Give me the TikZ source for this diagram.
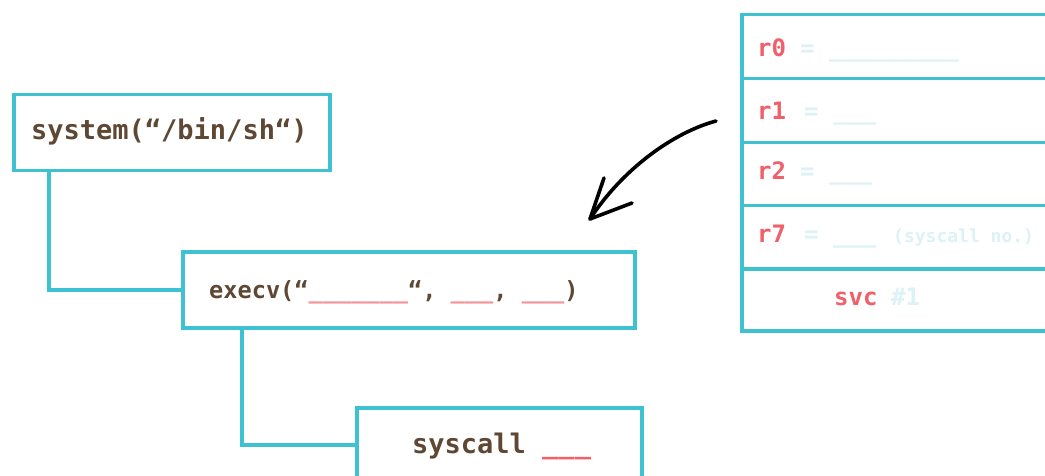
\documentclass[tikz,border=0pt]{standalone}
\usepackage{fontspec}
\setmonofont{DejaVu Sans Mono}
\definecolor{frame}{HTML}{3EC1D0}
\definecolor{code}{HTML}{5E4733}
\definecolor{reg}{HTML}{F0606A}
\definecolor{blank}{HTML}{F4959A}
\definecolor{faint}{HTML}{DDF2F6}
\tikzset{
  box/.style={draw=frame, line width=3.5pt, fill=white, anchor=north west, inner sep=0pt},
  row/.style={box, minimum width=310pt},
  conn/.style={draw=frame, line width=3.5pt},
  codetext/.style={anchor=base west, inner sep=0pt, text=code, font=\ttfamily\bfseries},
  regtext/.style={anchor=base west, inner sep=0pt, text=reg, font=\ttfamily\bfseries\fontsize{24}{24}\selectfont},
  hint/.style={anchor=base west, inner sep=0pt, text=faint, font=\ttfamily\bfseries\fontsize{24}{24}\selectfont},
  pen/.style={line width=3.6pt, line cap=round, line join=round, black}
}
\begin{document}
\begin{tikzpicture}[x=1pt, y=-1pt]
\useasboundingbox (0,0) rectangle (1045,476);
\clip (0,0) rectangle (1045,476);

% call chain boxes
\node[box, minimum width=316pt, minimum height=76pt] (sys) at (12,93) {};
\node[box, minimum width=452pt, minimum height=76pt] (exe) at (181,250) {};
\node[box, minimum width=285pt, minimum height=74pt] (sc) at (355,406) {};

% tree connectors
\draw[conn] ([xshift=37pt]sys.south west) |- (exe.west);
\draw[conn] ([xshift=61pt]exe.south west) |- (sc.west);

% box labels
\node[codetext, font=\ttfamily\bfseries\fontsize{27}{27}\selectfont] (systxt) at (31,140) {system(“/bin/sh“)};
\node[codetext, font=\ttfamily\bfseries\fontsize{23.6}{24}\selectfont] (exetxt) at (209,298)
  {execv(“\textcolor{blank}{\_\_\_\_\_\_\_}“, \textcolor{blank}{\_\_\_}, \textcolor{blank}{\_\_\_})};
\node[codetext, font=\ttfamily\bfseries\fontsize{27}{27}\selectfont] (sctxt) at (412,453)
  {syscall \textcolor{reg}{\_\_\_}};

% register table
\node[row, minimum height=64pt] (r0) at (740,13) {};
\node[row, minimum height=64pt] (r1) at (740,77) {};
\node[row, minimum height=63pt] (r2) at (740,141) {};
\node[row, minimum height=63pt] (r7) at (740,204) {};
\node[row, minimum height=62pt] (sv) at (740,267) {};

\node[regtext] (r0l) at (757,57) {r0};
\node[regtext] (r1l) at (757,120) {r1};
\node[regtext] (r2l) at (757,180) {r2};
\node[regtext] (r7l) at (757,242) {r7};
\node[regtext] (svl) at (834,305) {svc};

\node[hint] (r0h) at (800,57) {= \_\_\_\_\_\_\_\_\_};
\node[hint] (r1h) at (804,120) {= \_\_\_};
\node[hint] (r2h) at (800,180) {= \_\_\_};
\node[hint] (r7h) at (804,242) {= \_\_\_};
\node[hint, font=\ttfamily\bfseries\fontsize{18}{18}\selectfont] (r7n) at (893,242) {(syscall no.)};
\node[hint] (svh) at (891,305) {\#1};

% hand-drawn pointer
\coordinate (penstart) at (716,121);
\coordinate (pentip) at (590,219);
\coordinate (barbA) at (604,178);
\coordinate (barbB) at (632,203);
\draw[pen] (penstart) .. controls (672,133) and (622,170) .. (pentip);
\draw[pen] (barbA) -- (pentip) -- (barbB);
\end{tikzpicture}
\end{document}
